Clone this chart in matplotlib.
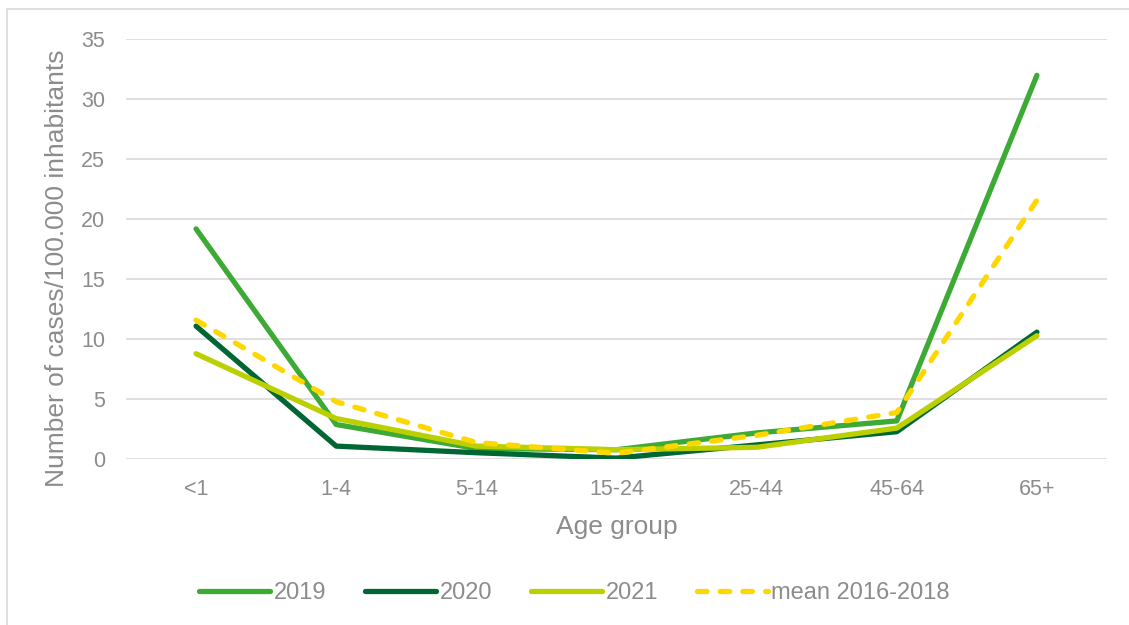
import matplotlib.pyplot as plt
from matplotlib.patches import Rectangle

plt.rcParams['font.family'] = ['Liberation Sans', 'DejaVu Sans']

age_groups = ['<1', '1-4', '5-14', '15-24', '25-44', '45-64', '65+']
cases_2019 = [19.2, 2.9, 0.9, 0.8, 2.2, 3.2, 32.0]
cases_2020 = [11.1, 1.1, 0.55, 0.1, 1.2, 2.3, 10.6]
cases_2021 = [8.8, 3.4, 1.1, 0.8, 1.0, 2.6, 10.3]
mean_2016_2018 = [11.6, 4.8, 1.4, 0.5, 2.0, 3.9, 21.6]

text_col = '#8c8c8c'

fig = plt.figure(figsize=(11.29, 6.25), dpi=100)
ax = fig.add_axes([0.1116, 0.2651, 0.8689, 0.672])

# outer chart frame (only left/top fall inside the image)
fig.patches.append(Rectangle((7 / 1129, -0.1), 1.2, 1 - 9 / 625 + 0.1,
                             transform=fig.transFigure, fill=False,
                             edgecolor='#d9d9d9', linewidth=1.2))

x = range(len(age_groups))
lw = 3.8
ax.plot(x, cases_2019, color='#3daa35', lw=lw, label='2019', solid_capstyle='round')
ax.plot(x, cases_2020, color='#006633', lw=lw, label='2020', solid_capstyle='round')
ax.plot(x, cases_2021, color='#bccf00', lw=lw, label='2021', solid_capstyle='round')
ax.plot(x, mean_2016_2018, color='#ffd700', lw=lw, ls=(0, (1.8, 2.5)),
        dash_capstyle='round', label='mean 2016-2018')

ax.set_xlim(-0.5, 6.5)
ax.set_ylim(0, 35)
ax.set_yticks(range(0, 36, 5))
ax.set_xticks(list(x))
ax.set_xticklabels(age_groups)
ax.grid(axis='y', color='#d9d9d9', lw=1.2)
ax.set_axisbelow(True)
for s in ax.spines.values():
    s.set_visible(False)
ax.tick_params(length=0, labelsize=15.5, colors=text_col)
ax.tick_params(axis='x', pad=14)
ax.tick_params(axis='y', pad=15)

ax.set_xlabel('Age group', fontsize=19, color=text_col, labelpad=11)
ax.set_ylabel('Number of cases/100.000 inhabitants', fontsize=19, color=text_col)
ax.yaxis.set_label_coords(-0.058, 0.455)

fig.legend(loc='center', bbox_to_anchor=(0.509, 0.051), ncol=4, frameon=False,
           fontsize=17, labelcolor=text_col, handlelength=3.0, handletextpad=0.15,
           columnspacing=1.65)

plt.savefig('out.png', dpi=100)
